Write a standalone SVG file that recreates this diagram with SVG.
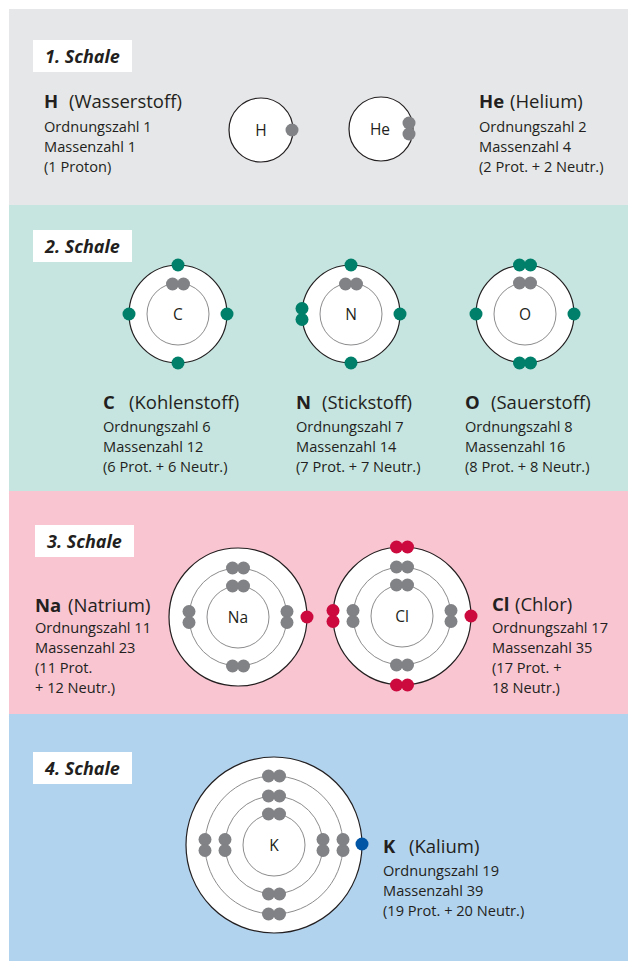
<svg xmlns="http://www.w3.org/2000/svg" width="629" height="963" viewBox="0 0 629 963">
  <style>
    text { font-family: "Open Sans", "Noto Sans", "Liberation Sans", sans-serif; fill: #231f20; }
    .label { font-size: 18px; font-weight: bold; font-style: italic; }
    .title { font-size: 18.5px; }
    .sym { font-weight: bold; }
    .body { font-size: 14.6px; }
    .core { font-size: 15.5px; text-anchor: middle; }
    .labelbox { fill: #ffffff; }
    .outer { fill: #ffffff; stroke: #231f20; stroke-width: 1.2; }
    .shell { fill: none; stroke: #8c8c8e; stroke-width: 1; }
    .eg { fill: #808285; }
    .en { fill: #00806a; }
    .er { fill: #cc0a3e; }
    .eb { fill: #0055a5; }
  </style>

  <rect width="629" height="963" fill="#ffffff"/>

  <!-- shell bands -->
  <g id="bands">
    <rect x="9" y="9" width="619" height="196" fill="#e6e7e8"/>
    <rect x="9" y="205" width="619" height="286" fill="#c6e5e0"/>
    <rect x="9" y="491" width="619" height="223" fill="#f8c5d1"/>
    <rect x="9" y="714" width="619" height="247" fill="#b2d3ee"/>
  </g>

  <!-- band labels -->
  <g id="label-1">
    <rect class="labelbox" x="33" y="40" width="99" height="32"/>
    <text class="label" x="45" y="63">1. Schale</text>
  </g>
  <g id="label-2">
    <rect class="labelbox" x="33" y="230" width="99" height="32"/>
    <text class="label" x="45" y="253">2. Schale</text>
  </g>
  <g id="label-3">
    <rect class="labelbox" x="35" y="525" width="99" height="32"/>
    <text class="label" x="47" y="548">3. Schale</text>
  </g>
  <g id="label-4">
    <rect class="labelbox" x="33" y="752" width="99" height="32"/>
    <text class="label" x="45" y="775">4. Schale</text>
  </g>

  <!-- hydrogen -->
  <g id="atom-H">
    <circle class="outer" cx="261" cy="130" r="32"/>
    <text class="core" x="261" y="135.5">H</text>
    <circle class="eg" cx="292" cy="130" r="6.5"/>
  </g>
  <g id="info-H">
    <text class="title" x="44" y="108"><tspan class="sym">H</tspan><tspan x="69">(Wasserstoff)</tspan></text>
    <text class="body" x="44" y="132">Ordnungszahl 1</text>
    <text class="body" x="44" y="152">Massenzahl 1</text>
    <text class="body" x="44" y="172">(1 Proton)</text>
  </g>

  <!-- helium -->
  <g id="atom-He">
    <circle class="outer" cx="381" cy="129" r="32"/>
    <text class="core" x="380" y="134.5">He</text>
    <circle class="eg" cx="409" cy="123" r="6.5"/>
    <circle class="eg" cx="409" cy="134" r="6.5"/>
  </g>
  <g id="info-He">
    <text class="title" x="479" y="108"><tspan class="sym">He</tspan><tspan x="510">(Helium)</tspan></text>
    <text class="body" x="479" y="132">Ordnungszahl 2</text>
    <text class="body" x="479" y="152">Massenzahl 4</text>
    <text class="body" x="479" y="172">(2 Prot. + 2 Neutr.)</text>
  </g>

  <!-- carbon -->
  <g id="atom-C">
    <circle class="outer" cx="178" cy="314" r="49"/>
    <circle class="shell" cx="178" cy="314" r="31"/>
    <text class="core" x="178" y="319.5">C</text>
    <circle class="eg" cx="172.5" cy="284" r="6.5"/>
    <circle class="eg" cx="183.5" cy="284" r="6.5"/>
    <circle class="en" cx="178" cy="265" r="6.5"/>
    <circle class="en" cx="129" cy="314" r="6.5"/>
    <circle class="en" cx="227" cy="314" r="6.5"/>
    <circle class="en" cx="178" cy="363" r="6.5"/>
  </g>
  <g id="info-C">
    <text class="title" x="103" y="409"><tspan class="sym">C</tspan><tspan x="129">(Kohlenstoff)</tspan></text>
    <text class="body" x="103" y="432">Ordnungszahl 6</text>
    <text class="body" x="103" y="452">Massenzahl 12</text>
    <text class="body" x="103" y="471.5">(6 Prot. + 6 Neutr.)</text>
  </g>

  <!-- nitrogen -->
  <g id="atom-N">
    <circle class="outer" cx="351" cy="314" r="49"/>
    <circle class="shell" cx="351" cy="314" r="31"/>
    <text class="core" x="351" y="319.5">N</text>
    <circle class="eg" cx="345.5" cy="284" r="6.5"/>
    <circle class="eg" cx="356.5" cy="284" r="6.5"/>
    <circle class="en" cx="351" cy="265" r="6.5"/>
    <circle class="en" cx="302" cy="308.5" r="6.5"/>
    <circle class="en" cx="302" cy="319.5" r="6.5"/>
    <circle class="en" cx="400" cy="314" r="6.5"/>
    <circle class="en" cx="351" cy="363" r="6.5"/>
  </g>
  <g id="info-N">
    <text class="title" x="296" y="409"><tspan class="sym">N</tspan><tspan x="322">(Stickstoff)</tspan></text>
    <text class="body" x="296" y="432">Ordnungszahl 7</text>
    <text class="body" x="296" y="452">Massenzahl 14</text>
    <text class="body" x="296" y="471.5">(7 Prot. + 7 Neutr.)</text>
  </g>

  <!-- oxygen -->
  <g id="atom-O">
    <circle class="outer" cx="525" cy="314" r="49"/>
    <circle class="shell" cx="525" cy="314" r="31"/>
    <text class="core" x="525" y="319.5">O</text>
    <circle class="eg" cx="519.5" cy="283" r="6.5"/>
    <circle class="eg" cx="530.5" cy="283" r="6.5"/>
    <circle class="en" cx="519.5" cy="265" r="6.5"/>
    <circle class="en" cx="530.5" cy="265" r="6.5"/>
    <circle class="en" cx="476" cy="314" r="6.5"/>
    <circle class="en" cx="574" cy="314" r="6.5"/>
    <circle class="en" cx="519.5" cy="363" r="6.5"/>
    <circle class="en" cx="530.5" cy="363" r="6.5"/>
  </g>
  <g id="info-O">
    <text class="title" x="465" y="409"><tspan class="sym">O</tspan><tspan x="491">(Sauerstoff)</tspan></text>
    <text class="body" x="465" y="432">Ordnungszahl 8</text>
    <text class="body" x="465" y="452">Massenzahl 16</text>
    <text class="body" x="465" y="471.5">(8 Prot. + 8 Neutr.)</text>
  </g>

  <!-- sodium -->
  <g id="atom-Na">
    <circle class="outer" cx="238" cy="617" r="69"/>
    <circle class="shell" cx="238" cy="617" r="49"/>
    <circle class="shell" cx="238" cy="617" r="31"/>
    <text class="core" x="238" y="622.5">Na</text>
    <circle class="eg" cx="232.5" cy="586" r="6.5"/>
    <circle class="eg" cx="243.5" cy="586" r="6.5"/>
    <circle class="eg" cx="232.5" cy="568" r="6.5"/>
    <circle class="eg" cx="243.5" cy="568" r="6.5"/>
    <circle class="eg" cx="189" cy="611.5" r="6.5"/>
    <circle class="eg" cx="189" cy="622.5" r="6.5"/>
    <circle class="eg" cx="287" cy="611.5" r="6.5"/>
    <circle class="eg" cx="287" cy="622.5" r="6.5"/>
    <circle class="eg" cx="232.5" cy="666" r="6.5"/>
    <circle class="eg" cx="243.5" cy="666" r="6.5"/>
    <circle class="er" cx="307" cy="617" r="6.5"/>
  </g>
  <g id="info-Na">
    <text class="title" x="35" y="612"><tspan class="sym">Na</tspan><tspan x="68">(Natrium)</tspan></text>
    <text class="body" x="35" y="633">Ordnungszahl 11</text>
    <text class="body" x="35" y="653">Massenzahl 23</text>
    <text class="body" x="35" y="673">(11 Prot.</text>
    <text class="body" x="35" y="693">+ 12 Neutr.)</text>
  </g>

  <!-- chlorine -->
  <g id="atom-Cl">
    <circle class="outer" cx="402" cy="616" r="69"/>
    <circle class="shell" cx="402" cy="616" r="49"/>
    <circle class="shell" cx="402" cy="616" r="31"/>
    <text class="core" x="402" y="621.5">Cl</text>
    <circle class="eg" cx="396.5" cy="585" r="6.5"/>
    <circle class="eg" cx="407.5" cy="585" r="6.5"/>
    <circle class="eg" cx="396.5" cy="567" r="6.5"/>
    <circle class="eg" cx="407.5" cy="567" r="6.5"/>
    <circle class="eg" cx="353" cy="610.5" r="6.5"/>
    <circle class="eg" cx="353" cy="621.5" r="6.5"/>
    <circle class="eg" cx="451" cy="610.5" r="6.5"/>
    <circle class="eg" cx="451" cy="621.5" r="6.5"/>
    <circle class="eg" cx="396.5" cy="665" r="6.5"/>
    <circle class="eg" cx="407.5" cy="665" r="6.5"/>
    <circle class="er" cx="396.5" cy="547" r="6.5"/>
    <circle class="er" cx="407.5" cy="547" r="6.5"/>
    <circle class="er" cx="333" cy="610.5" r="6.5"/>
    <circle class="er" cx="333" cy="621.5" r="6.5"/>
    <circle class="er" cx="471" cy="616" r="6.5"/>
    <circle class="er" cx="396.5" cy="685" r="6.5"/>
    <circle class="er" cx="407.5" cy="685" r="6.5"/>
  </g>
  <g id="info-Cl">
    <text class="title" x="492" y="611"><tspan class="sym">Cl</tspan><tspan x="515">(Chlor)</tspan></text>
    <text class="body" x="492" y="633">Ordnungszahl 17</text>
    <text class="body" x="492" y="653">Massenzahl 35</text>
    <text class="body" x="492" y="673">(17 Prot. +</text>
    <text class="body" x="492" y="693">18 Neutr.)</text>
  </g>

  <!-- potassium -->
  <g id="atom-K">
    <circle class="outer" cx="274" cy="845" r="88"/>
    <circle class="shell" cx="274" cy="845" r="69"/>
    <circle class="shell" cx="274" cy="845" r="49"/>
    <circle class="shell" cx="274" cy="845" r="31"/>
    <text class="core" x="274" y="850.5">K</text>
    <circle class="eg" cx="268.5" cy="814" r="6.5"/>
    <circle class="eg" cx="279.5" cy="814" r="6.5"/>
    <circle class="eg" cx="268.5" cy="796" r="6.5"/>
    <circle class="eg" cx="279.5" cy="796" r="6.5"/>
    <circle class="eg" cx="268.5" cy="776" r="6.5"/>
    <circle class="eg" cx="279.5" cy="776" r="6.5"/>
    <circle class="eg" cx="225" cy="839.5" r="6.5"/>
    <circle class="eg" cx="225" cy="850.5" r="6.5"/>
    <circle class="eg" cx="205" cy="839.5" r="6.5"/>
    <circle class="eg" cx="205" cy="850.5" r="6.5"/>
    <circle class="eg" cx="323" cy="839.5" r="6.5"/>
    <circle class="eg" cx="323" cy="850.5" r="6.5"/>
    <circle class="eg" cx="343" cy="839.5" r="6.5"/>
    <circle class="eg" cx="343" cy="850.5" r="6.5"/>
    <circle class="eg" cx="268.5" cy="894" r="6.5"/>
    <circle class="eg" cx="279.5" cy="894" r="6.5"/>
    <circle class="eg" cx="268.5" cy="914" r="6.5"/>
    <circle class="eg" cx="279.5" cy="914" r="6.5"/>
    <circle class="eb" cx="362" cy="844" r="6.5"/>
  </g>
  <g id="info-K">
    <text class="title" x="383" y="853"><tspan class="sym">K</tspan><tspan x="409">(Kalium)</tspan></text>
    <text class="body" x="383" y="876">Ordnungszahl 19</text>
    <text class="body" x="383" y="896">Massenzahl 39</text>
    <text class="body" x="383" y="915.5">(19 Prot. + 20 Neutr.)</text>
  </g>
</svg>
